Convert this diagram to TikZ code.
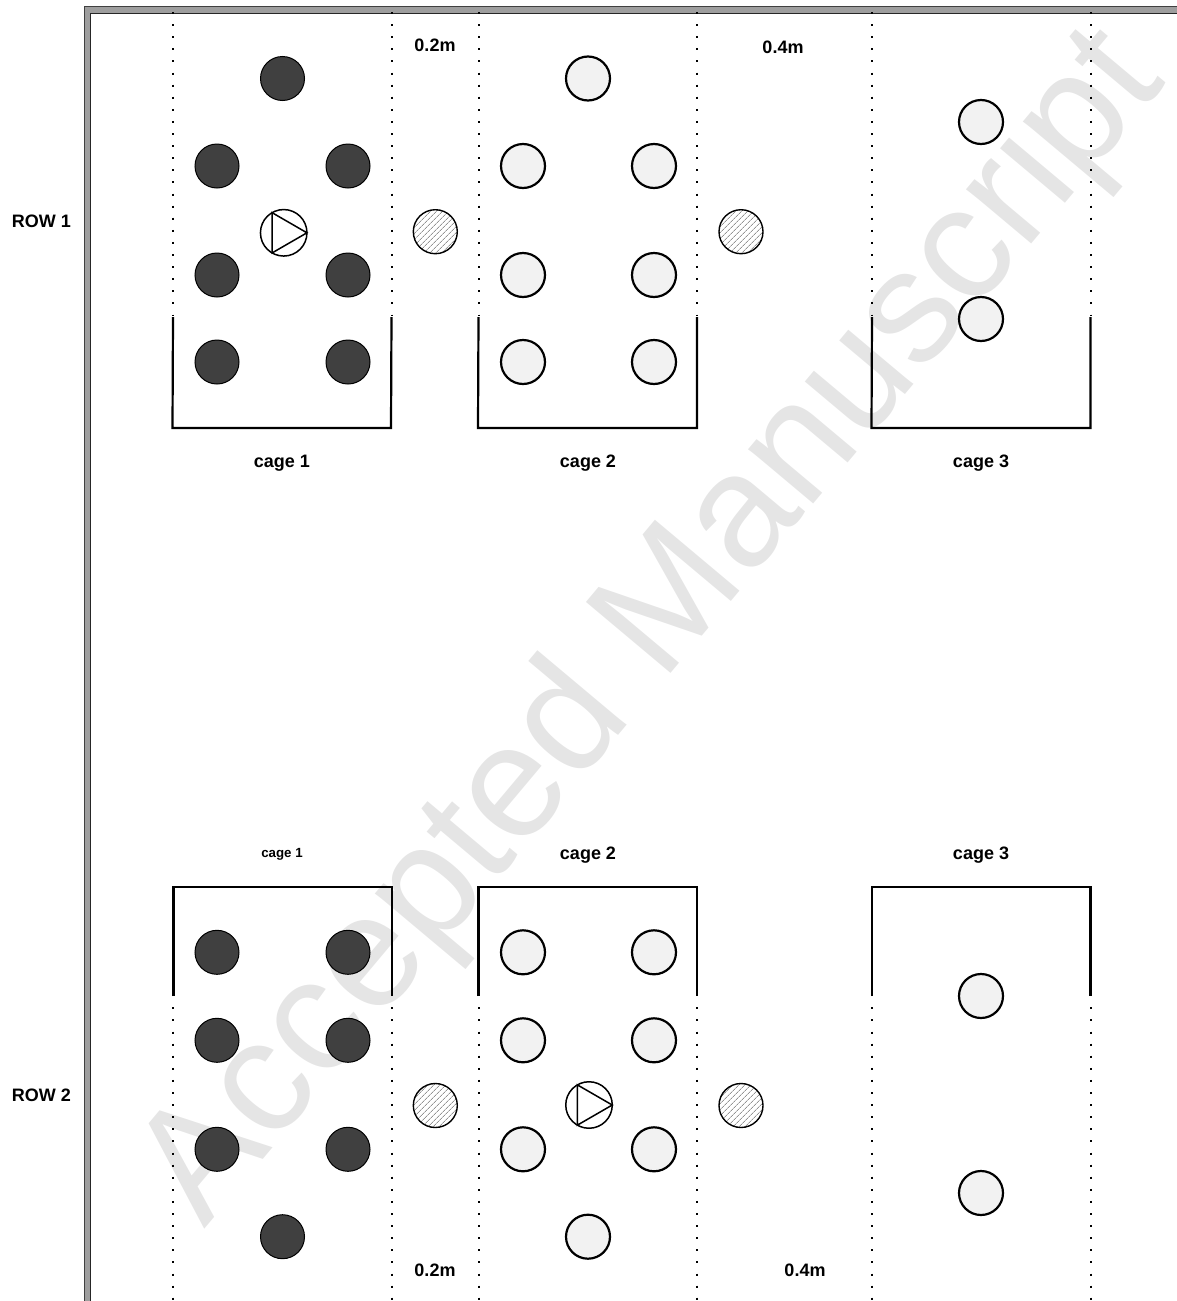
\documentclass[tikz,border=0pt]{standalone}
\usepackage{fontspec}
\setmainfont{Liberation Sans}
\usetikzlibrary{positioning, patterns.meta}

\begin{document}
\begin{tikzpicture}[
			x=1pt, y=-1pt,
			darkfish/.style={circle, draw, fill=black!75, line width=1pt, minimum size=44pt, inner sep=0pt, outer sep=0pt},
			lightfish/.style={circle, draw, fill=black!5, line width=2.2pt, minimum size=44pt, inner sep=0pt, outer sep=0pt},
			mussel/.style={circle, draw, line width=1.4pt, minimum size=44pt, inner sep=0pt, outer sep=0pt, pattern={Lines[angle=45, distance=4pt, line width=0.5pt]}, pattern color=black!65},
			pump/.style={circle, draw, line width=1.5pt, fill=white, minimum size=46.5pt, inner sep=0pt, outer sep=0pt},
			lbl/.style={font=\fontsize{18}{18}\selectfont\bfseries, inner sep=0pt},
			smalllbl/.style={font=\fontsize{13.3}{13.3}\selectfont\bfseries, inner sep=0pt},
			cage/.style={line width=2.2pt},
			gap/.style={line width=2pt, dash pattern=on 2pt off 10.1pt}
			]
			\useasboundingbox (0,0) rectangle (1177,1301);
			\node[rotate=50, anchor=base west, inner sep=0pt, text=black!10, font=\fontsize{160.5}{160.5}\selectfont] (mark) at (204,1230) {Accepted Manuscript};
			\fill[black!38] (84,1301) -- (84,6.5) -- (1177,6.5) -- (1177,13) -- (90.5,13) -- (90.5,1301) -- cycle;
			\draw[line width=1pt, black!75] (84,1301) -- (84,6.5) -- (1177,6.5);
			\draw[line width=1pt, black!85] (90.5,1301) -- (90.5,13) -- (1177,13);
			\draw[gap] (173,12) -- (173,316);
			\draw[gap] (391.5,12) -- (391.5,316);
			\draw[gap] (478.5,12) -- (478.5,316);
			\draw[gap] (697,12) -- (697,316);
			\draw[gap] (872,12) -- (872,316);
			\draw[gap] (1090.7,12) -- (1090.7,316);
			\draw[gap] (173.3,1007.3) -- (173.3,1301);
			\draw[gap] (391.5,1007.3) -- (391.5,1301);
			\draw[gap] (478.5,1007.3) -- (478.5,1301);
			\draw[gap] (697,1007.3) -- (697,1301);
			\draw[gap] (872,1007.3) -- (872,1301);
			\draw[gap] (1090.7,1007.3) -- (1090.7,1301);
			\draw[cage] (173,317) -- (172.5,428) -- (391,428) -- (391.5,317);
			\draw[cage] (478.5,317) -- (478,428) -- (697,428) -- (697,317);
			\draw[cage] (872,317) -- (871.5,428) -- (1090.5,428) -- (1090.5,317);
			\draw[cage] (173.5,996) -- (173.5,887) -- (392,887) -- (392,996);
			\draw[cage] (478.5,996) -- (478.5,887) -- (697,887) -- (697,996);
			\draw[cage] (872,996) -- (872,887) -- (1090.5,887) -- (1090.5,996);
			\node[darkfish] (aa) at (282.5,78.5) {};
			\node[darkfish] (ab) at (217,166) {};
			\node[darkfish, right=87pt of ab] (ac) {};
			\node[darkfish, below=65pt of ab] (ad) {};
			\node[darkfish, below=65pt of ac] (ae) {};
			\node[darkfish, below=43pt of ad] (af) {};
			\node[darkfish, below=43pt of ae] (ag) {};
			\node[pump] (pa) at (283.7,232.8) {};
			\draw[line width=1.5pt] (pa.120) -- (pa.0) -- (pa.240) -- cycle;
			\node[mussel] (ma) at (435.3,231.7) {};
			\node[lightfish] (ba) at (588,78.5) {};
			\node[lightfish] (bb) at (523,166) {};
			\node[lightfish, right=87pt of bb] (bc) {};
			\node[lightfish, below=65pt of bb] (bd) {};
			\node[lightfish, below=65pt of bc] (be) {};
			\node[lightfish, below=43pt of bd] (bf) {};
			\node[lightfish, below=43pt of be] (bg) {};
			\node[mussel] (mb) at (741,231.7) {};
			\node[lightfish] (ca) at (981,122) {};
			\node[lightfish, below=153pt of ca] (cb) {};
			\node[darkfish] (da) at (217,952.3) {};
			\node[darkfish, right=87pt of da] (db) {};
			\node[darkfish, below=44pt of da] (dc) {};
			\node[darkfish, below=44pt of db] (dd) {};
			\node[darkfish, below=65pt of dc] (de) {};
			\node[darkfish, below=65pt of dd] (df) {};
			\node[darkfish] (dg) at (282.5,1236.7) {};
			\node[mussel] (mc) at (435.3,1105.5) {};
			\node[lightfish] (ea) at (523,952.3) {};
			\node[lightfish, right=87pt of ea] (eb) {};
			\node[lightfish, below=44pt of ea] (ec) {};
			\node[lightfish, below=44pt of eb] (ed) {};
			\node[lightfish, below=65pt of ec] (ee) {};
			\node[lightfish, below=65pt of ed] (ef) {};
			\node[lightfish] (eg) at (588,1236.7) {};
			\node[pump] (pb) at (589,1105) {};
			\draw[line width=1.5pt] (pb.120) -- (pb.0) -- (pb.240) -- cycle;
			\node[mussel] (md) at (741,1105.5) {};
			\node[lightfish] (fa) at (981,996) {};
			\node[lightfish, below=153pt of fa] (fb) {};
			\node[lbl] (rowa) at (41.5,221) {ROW 1};
			\node[lbl] (rowb) at (41.5,1095) {ROW 2};
			\node[lbl] (wa) at (435,45) {0.2m};
			\node[lbl] (wb) at (783,47) {0.4m};
			\node[lbl] (wc) at (435,1270) {0.2m};
			\node[lbl] (wd) at (805,1270) {0.4m};
			\node[lbl] (ga) at (282,463) {cage 1};
			\node[lbl] (gb) at (588,463) {cage 2};
			\node[lbl] (gc) at (981,463) {cage 3};
			\node[smalllbl] (ha) at (282,854) {cage 1};
			\node[lbl] (hb) at (588,855) {cage 2};
			\node[lbl] (hc) at (981,855) {cage 3};
		\end{tikzpicture}
\end{document}
